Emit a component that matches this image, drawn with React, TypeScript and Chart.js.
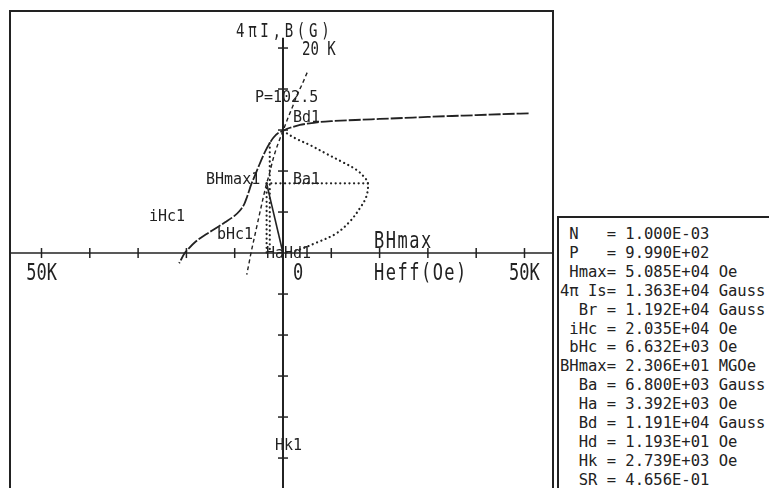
import React, { useEffect, useRef } from "react";
import { Chart, registerables } from "chart.js";

Chart.register(...registerables);

// ---------- data (H in kOe, 4πI / B in kG, BH in MGOe) ----------
const intrinsicH = [50.85, 45, 40, 35, 30, 25, 20, 15, 10, 7.5, 5, 3.5, 2, 1, 0, -1, -2, -2.739, -3.392, -4, -5, -6, -6.632, -7, -7.5, -8, -9, -10, -12, -14, -16, -18, -20, -20.35, -21.5];
const intrinsicJ = [13.63, 13.54, 13.45, 13.37, 13.28, 13.18, 13.08, 12.98, 12.87, 12.78, 12.62, 12.5, 12.3, 12.15, 11.92, 11.7, 11.25, 10.73, 10.19, 9.6, 8.5, 7.35, 6.63, 6.1, 5.4, 4.8, 4.1, 3.65, 3.0, 2.4, 1.8, 1.15, 0.2, 0, -1.0];

const inductionH = [5, 4, 3, 2, 1, 0, -1, -2, -3, -3.392, -4, -5, -6, -6.632, -7, -7.5];
const inductionB = [17.6, 16.5, 15.5, 14.3, 13.15, 11.92, 10.7, 9.25, 7.4, 6.8, 5.6, 3.5, 1.35, 0, -0.9, -2.1];

const energyB = [11.92, 11.2, 10.5, 9.7, 8.9, 8.1, 7.3, 6.8, 5.5, 4.4, 3.1, 1.9, 1.0, 0.3, 0];
const energyBH = [0, 3.3, 7.5, 11.7, 16.0, 20.0, 22.3, 23.06, 22.6, 20.9, 18.2, 14.4, 9.0, 4.1, 0];

const pointHa = -3.392;
const pointBa = 6.8;
const pointHk = -2.739;
const pointHkJ = 10.73;
const valueBHmax = 23.06;

const xTickValues = [-50, -40, -30, -20, -10, 10, 20, 30, 40, 50];
const yTickValues = [-24, -20, -16, -12, -8, -4, 4, 8, 12, 16, 20];
const xTickLabelValues = [-50, 0, 50];
const xTickLabelTexts = ["50K", "0", "50K"];

const statNames = [" N   ", " P   ", " Hmax", "4π Is", "  Br ", " iHc ", " bHc ", "BHmax", "  Ba ", "  Ha ", "  Bd ", "  Hd ", "  Hk ", "  SR "];
const statValues = ["1.000E-03", "9.990E+02", "5.085E+04", "1.363E+04", "1.192E+04", "2.035E+04", "6.632E+03", "2.306E+01", "6.800E+03", "3.392E+03", "1.191E+04", "1.193E+01", "2.739E+03", "4.656E-01"];
const statUnits = ["", "", "Oe", "Gauss", "Gauss", "Oe", "Oe", "MGOe", "Gauss", "Oe", "Gauss", "Oe", "Oe", ""];

// ---------- layout / style ----------
const X_MIN = -56.73, X_MAX = 56.11, Y_MIN = -27.02, Y_MAX = 23.71;
const Y_AXIS_TOP = 21.0;
const BH_TO_H = 0.7632; // plotted kOe per MGOe for the BH curve
const INK = "#222222";
const BIG = "23px 'DejaVu Sans Mono'";
const MID = "19px 'DejaVu Sans Mono'";
const SMALL = "15px 'DejaVu Sans Mono'";

type Lbl = { t: string; x: number; y: number; font: string; sx: number; sp: number; align?: "left" | "center" };
const labels: Lbl[] = [
  { t: "4πI,B(G)", x: -9.73, y: 21.07, font: MID, sx: 0.74, sp: 5, align: "left" },
  { t: "20 K", x: 3.93, y: 19.32, font: MID, sx: 0.74, sp: 0, align: "left" },
  { t: "BHmax", x: 18.84, y: 0.49, font: BIG, sx: 0.74, sp: 2, align: "left" },
  { t: "Heff(Oe)", x: 18.84, y: -2.63, font: BIG, sx: 0.74, sp: 2, align: "left" },
  { t: "P=102.5", x: -5.8, y: 14.73, font: SMALL, sx: 1, sp: 0 },
  { t: "Bd1", x: 2.07, y: 12.78, font: SMALL, sx: 1, sp: 0 },
  { t: "BHmax1", x: -15.94, y: 6.73, font: SMALL, sx: 1, sp: 0 },
  { t: "Ba1", x: 2.07, y: 6.73, font: SMALL, sx: 1, sp: 0 },
  { t: "iHc1", x: -27.74, y: 3.12, font: SMALL, sx: 1, sp: 0 },
  { t: "bHc1", x: -13.66, y: 1.37, font: SMALL, sx: 1, sp: 0 },
  { t: "Ha", x: -3.52, y: -0.49, font: SMALL, sx: 1, sp: 0 },
  { t: "Hd1", x: 0.21, y: -0.49, font: SMALL, sx: 1, sp: 0 },
  { t: "Hk1", x: -1.66, y: -19.22, font: SMALL, sx: 1, sp: 0 },
];

function drawText(ctx: CanvasRenderingContext2D, text: string, x: number, y: number, font: string, sx: number, sp: number, align: string) {
  ctx.save();
  ctx.font = font;
  (ctx as any).letterSpacing = sp + "px";
  ctx.textAlign = "left";
  ctx.textBaseline = "alphabetic";
  ctx.fillStyle = INK;
  const w = (ctx.measureText(text).width - sp) * sx;
  const x0 = align === "center" ? x - w / 2 : x;
  ctx.translate(x0, y);
  ctx.scale(sx, 1);
  ctx.fillText(text, 0, 0);
  ctx.restore();
}

const plotPlugin = {
  id: "bhPlot",
  beforeDatasetsDraw(chart: any) {
    const { ctx, chartArea, scales } = chart;
    const sx = scales.x, sy = scales.y;
    const x0 = sx.getPixelForValue(0);
    const y0 = sy.getPixelForValue(0);
    ctx.save();
    ctx.strokeStyle = INK;
    ctx.lineWidth = 1.5;
    ctx.beginPath();
    ctx.moveTo(chartArea.left, y0);
    ctx.lineTo(chartArea.right, y0);
    ctx.stroke();
    ctx.lineWidth = 2;
    ctx.beginPath();
    ctx.moveTo(x0, sy.getPixelForValue(Y_AXIS_TOP));
    ctx.lineTo(x0, chartArea.bottom);
    ctx.stroke();
    ctx.lineWidth = 1.5;
    for (const v of xTickValues) {
      const p = sx.getPixelForValue(v);
      ctx.beginPath();
      ctx.moveTo(p, y0 - 5);
      ctx.lineTo(p, y0 + 5);
      ctx.stroke();
    }
    for (const v of yTickValues) {
      const p = sy.getPixelForValue(v);
      ctx.beginPath();
      ctx.moveTo(x0 - 5, p);
      ctx.lineTo(x0 + 5, p);
      ctx.stroke();
    }
    ctx.restore();
  },
  afterDraw(chart: any) {
    const { ctx, chartArea, scales } = chart;
    const sx = scales.x, sy = scales.y;
    ctx.save();
    ctx.strokeStyle = INK;
    ctx.lineWidth = 2;
    ctx.strokeRect(chartArea.left + 1, chartArea.top + 1, chartArea.right - chartArea.left - 2, chartArea.bottom - chartArea.top - 2);
    ctx.restore();
    const baseY = sy.getPixelForValue(-2.63);
    xTickLabelValues.forEach((v, i) => {
      const px = sx.getPixelForValue(v);
      if (v === 0) drawText(ctx, xTickLabelTexts[i], px + 10, baseY, BIG, 0.74, 0, "left");
      else drawText(ctx, xTickLabelTexts[i], px, baseY, BIG, 0.74, 0, "center");
    });
    for (const l of labels) {
      drawText(ctx, l.t, sx.getPixelForValue(l.x), sy.getPixelForValue(l.y), l.font, l.sx, l.sp, l.align || "left");
    }
  },
};

export default function App() {
  const ref = useRef<HTMLCanvasElement | null>(null);
  useEffect(() => {
    if (!ref.current) return;
    const intrinsic = intrinsicH.map((h, i) => ({ x: h, y: intrinsicJ[i] }));
    const induction = inductionH.map((h, i) => ({ x: h, y: inductionB[i] }));
    const energy = energyBH.map((bh, i) => ({ x: bh * BH_TO_H, y: energyB[i] }));
    const dotted = { borderDash: [0.1, 4.5], borderCapStyle: "round" as const, borderWidth: 2.2 };
    const chart = new Chart(ref.current, {
      type: "line",
      data: {
        datasets: [
          { label: "4πI", data: intrinsic, borderColor: INK, borderWidth: 1.8, borderDash: [12, 2], cubicInterpolationMode: "monotone" },
          { label: "B", data: induction, borderColor: INK, borderWidth: 1.4, borderDash: [4, 3], cubicInterpolationMode: "monotone" },
          { label: "BH", data: energy, borderColor: INK, tension: 0.35, ...dotted },
          { label: "load", data: [{ x: 0, y: 0 }, { x: pointHa, y: pointBa }], borderColor: INK, borderWidth: 1.6 },
          { label: "Ba", data: [{ x: pointHa, y: pointBa }, { x: valueBHmax * BH_TO_H, y: pointBa }], borderColor: INK, ...dotted },
          { label: "Ha", data: [{ x: pointHa, y: pointBa }, { x: pointHa, y: 0 }], borderColor: INK, ...dotted },
          { label: "Hk", data: [{ x: pointHk, y: pointHkJ }, { x: pointHk, y: 0 }], borderColor: INK, ...dotted },
        ],
      },
      options: {
        responsive: false,
        animation: false,
        devicePixelRatio: 1,
        layout: { padding: 0 },
        elements: { point: { radius: 0, hoverRadius: 0 }, line: { fill: false } },
        plugins: { legend: { display: false }, tooltip: { enabled: false } },
        scales: {
          x: { type: "linear", min: X_MIN, max: X_MAX, display: false },
          y: { type: "linear", min: Y_MIN, max: Y_MAX, display: false },
        },
      },
      plugins: [plotPlugin],
    } as any);
    return () => chart.destroy();
  }, []);

  const rows = statNames.map((n, i) => `${n}= ${statValues[i]}${statUnits[i] ? " " + statUnits[i] : ""}`);

  return (
    <div style={{ position: "fixed", left: 0, top: 0, width: 769, height: 488, overflow: "hidden", background: "#fff" }}>
      <canvas ref={ref} width={545} height={520} style={{ position: "absolute", left: 9, top: 10, width: 545, height: 520 }} />
      <div style={{ position: "absolute", left: 557, top: 216, width: 240, height: 300, borderTop: `2px solid ${INK}`, borderLeft: `2px solid ${INK}` }}>
        <pre style={{ margin: 0, padding: "7px 0 0 1px", font: "15.5px 'DejaVu Sans Mono'", lineHeight: "18.9px", color: "#222" }}>
          {rows.join("\n")}
        </pre>
      </div>
    </div>
  );
}
